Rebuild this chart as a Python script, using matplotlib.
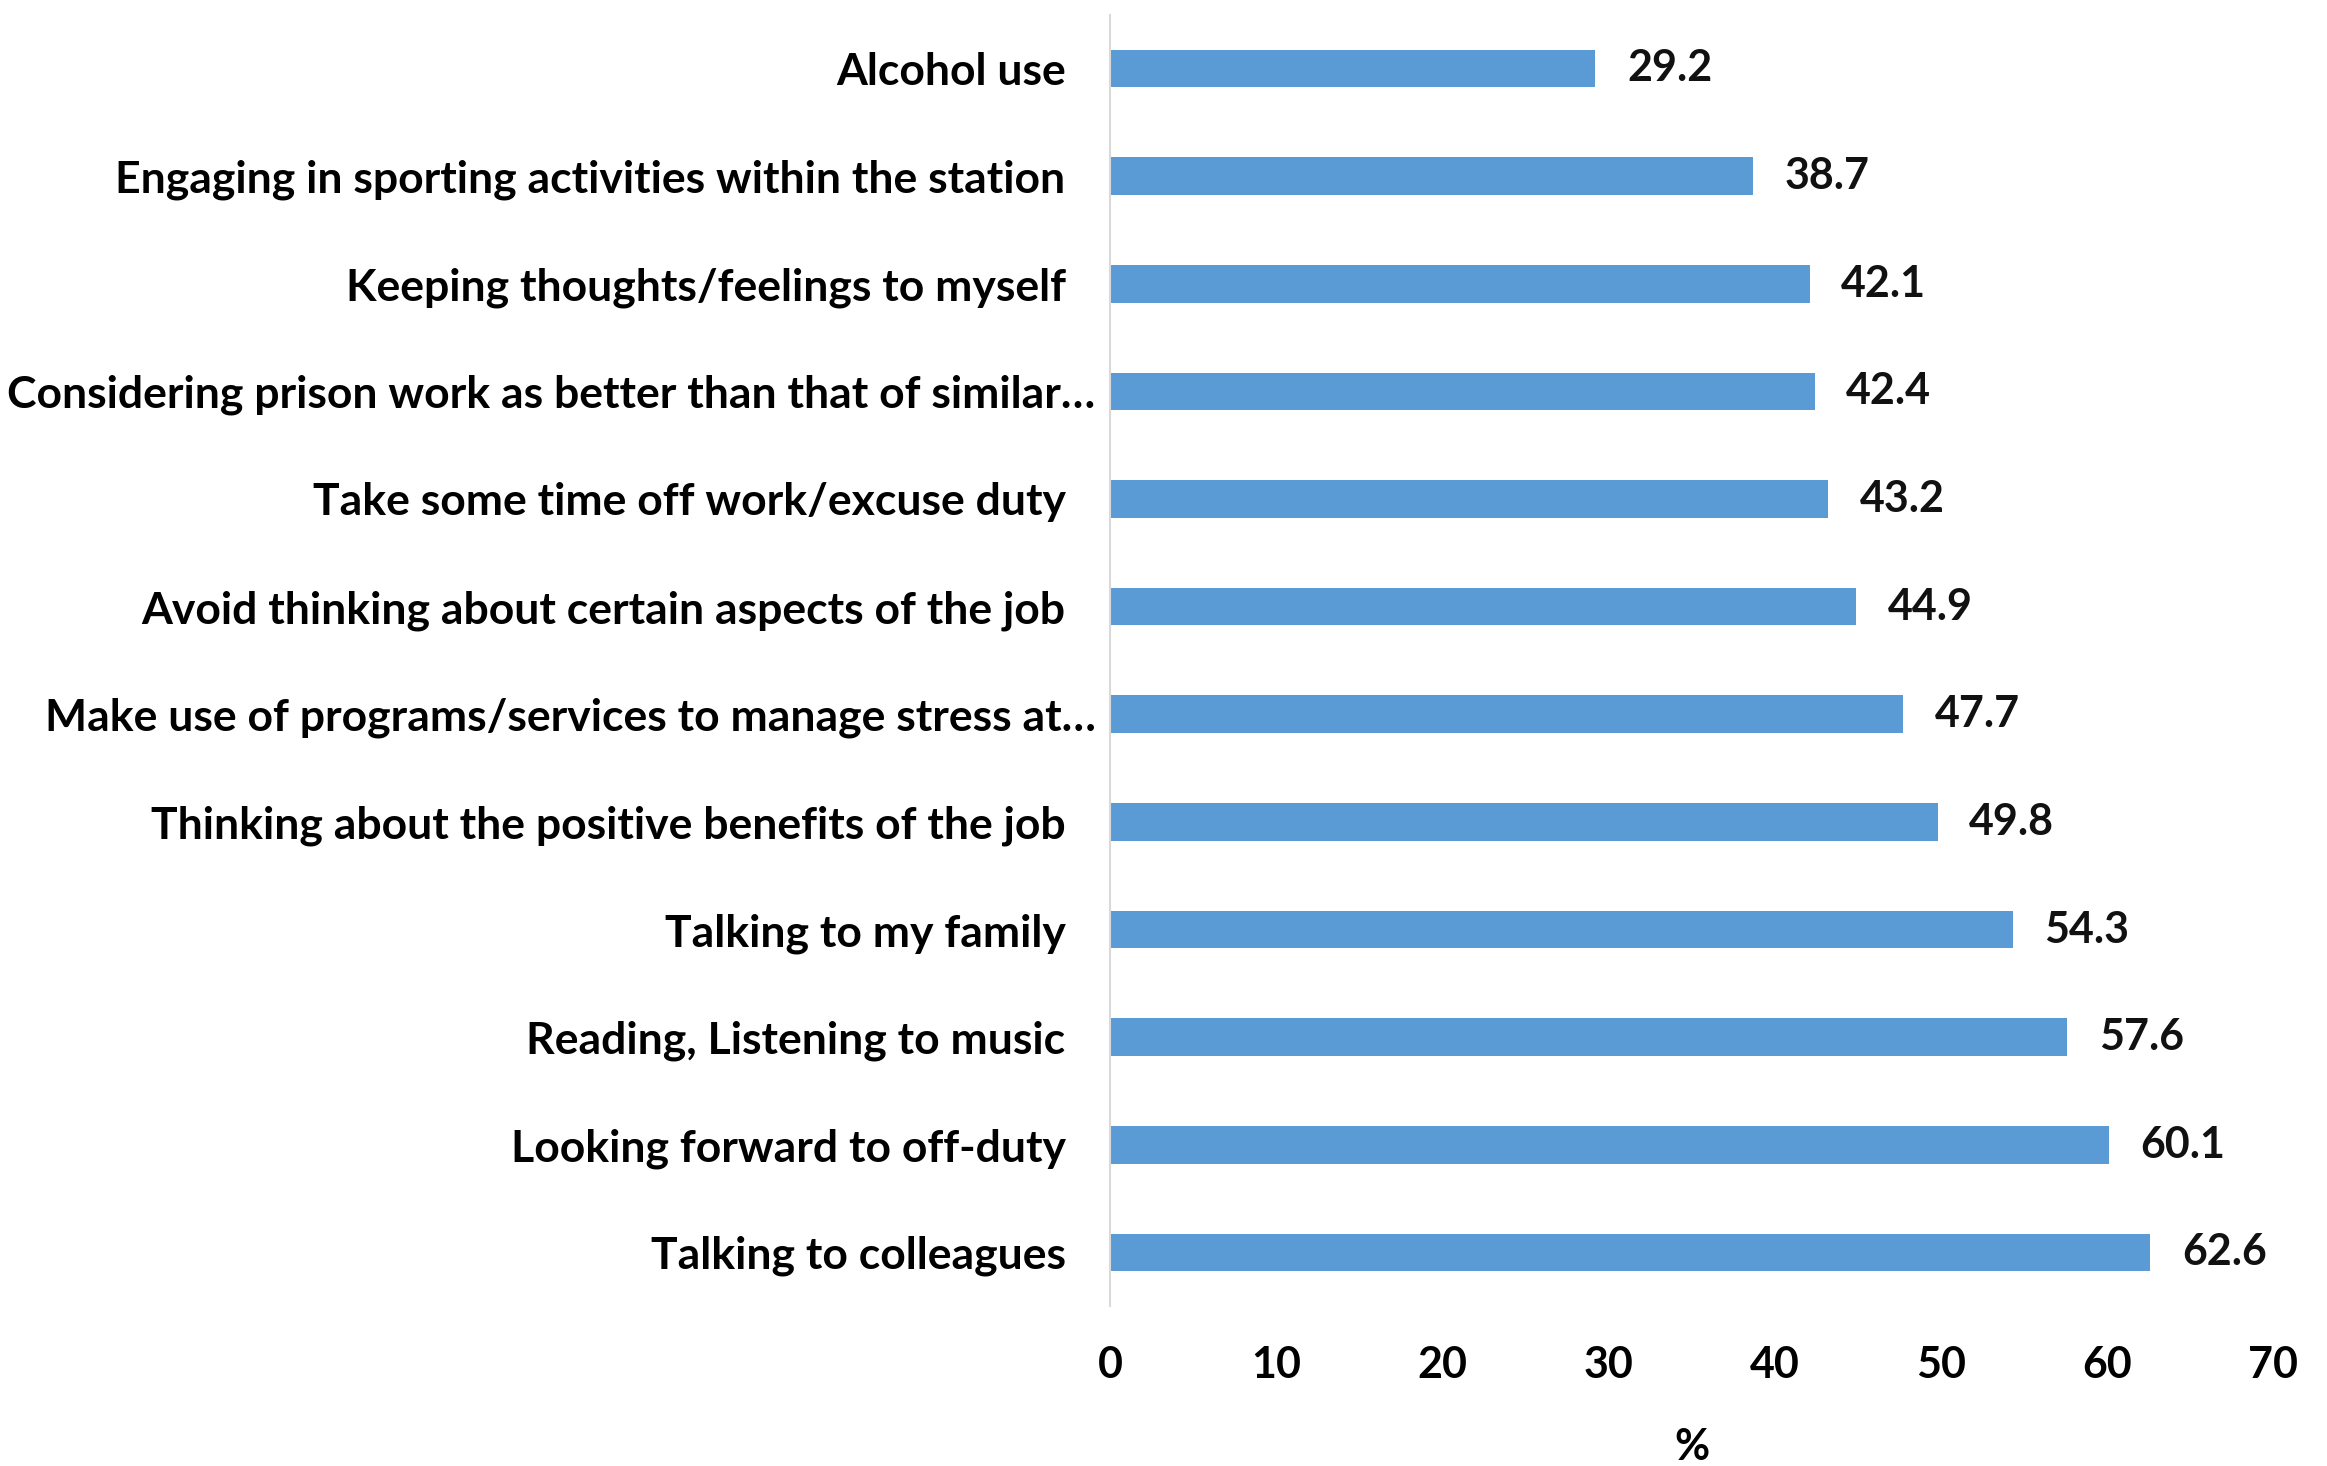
import matplotlib.pyplot as plt
from matplotlib.transforms import ScaledTranslation

# coping strategies, top to bottom as in the chart
strategies = [
    'Alcohol use',
    'Engaging in sporting activities within the station',
    'Keeping thoughts/feelings to myself',
    'Considering prison work as better than that of similar\u2026',
    'Take some time off work/excuse duty',
    'Avoid thinking about certain aspects of the job',
    'Make use of programs/services to manage stress at\u2026',
    'Thinking about the positive benefits of the job',
    'Talking to my family',
    'Reading, Listening to music',
    'Looking forward to off-duty',
    'Talking to colleagues',
]
percent = [29.2, 38.7, 42.1, 42.4, 43.2, 44.9, 47.7, 49.8, 54.3, 57.6, 60.1, 62.6]
xticks = [0, 10, 20, 30, 40, 50, 60, 70]

plt.rcParams['font.family'] = ['Lato', 'DejaVu Sans']
plt.rcParams['font.weight'] = 'bold'
fs = 31

fig = plt.figure(figsize=(23.27, 14.66), dpi=100)
ax = fig.add_axes([0.477, 0.109, 0.5, 0.881])

pos = list(range(len(strategies)))
ax.barh(pos, percent, height=0.35, color='#5B9BD5')

for y, v in zip(pos, percent):
    ax.text(v + 1.9, y, f'{v:.1f}', va='center', ha='left',
            fontsize=fs, fontweight='bold', color='#111111')

ax.set_ylim(len(strategies) - 0.5, -0.5)
ax.set_xlim(0, 70)
ax.set_yticks(pos)
ax.set_yticklabels(strategies, fontsize=32, fontweight='bold')
ax.set_xticks(xticks)
ax.set_xticklabels([str(t) for t in xticks], fontsize=fs, fontweight='bold')
ax.tick_params(axis='both', length=0)
ax.tick_params(axis='y', pad=32)
ax.tick_params(axis='x', pad=28)
ax.set_xlabel('%', fontsize=fs, fontweight='bold', labelpad=30)

# truncated labels sit closer to the axis in the original
for lab in ax.get_yticklabels():
    if lab.get_text().endswith('\u2026'):
        lab.set_transform(lab.get_transform() + ScaledTranslation(0.3, 0, fig.dpi_scale_trans))

for s in ['top', 'right', 'bottom']:
    ax.spines[s].set_visible(False)
ax.spines['left'].set_color('#d9d9d9')
ax.spines['left'].set_linewidth(1.5)

fig.savefig('out.png', dpi=100)
